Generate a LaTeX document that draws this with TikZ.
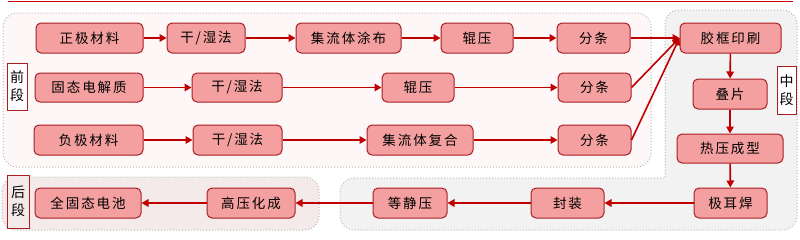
\documentclass[tikz,border=0pt]{standalone}
\usepackage{fontspec}
\newfontfamily\cjk[LetterSpace=14]{Noto Sans CJK SC}
\usetikzlibrary{arrows.meta}
\definecolor{darkred}{RGB}{192,0,0}
\definecolor{boxborder}{RGB}{170,30,35}
\definecolor{boxfill}{RGB}{244,160,160}
\definecolor{frontfill}{RGB}{253,247,247}
\definecolor{midfill}{RGB}{242,242,242}
\definecolor{backfill}{RGB}{244,234,234}
\definecolor{dotgray}{RGB}{185,185,185}
\begin{document}
\begin{tikzpicture}[x=1pt,y=-1pt,
  proc/.style={draw=boxborder, fill=boxfill, line width=1pt, rounded corners=5pt,
    minimum height=30pt, inner sep=0pt, font=\cjk\fontsize{13.5}{14}\selectfont, text=black},
  stagelbl/.style={draw=boxborder, line width=0.8pt, fill=white, inner sep=0pt,
    font=\cjk\fontsize{14}{18}\selectfont, align=center, minimum width=20pt},
  region/.style={draw=dotgray, dotted, line width=1pt, rounded corners=14pt},
  flow/.style={draw=darkred, line width=1.6pt, -{Triangle[length=7pt,width=7.5pt]}}
]
\useasboundingbox (0,0) rectangle (800,239);
% top line
\draw[darkred, line width=1.5pt] (8,1.5) -- (793,1.5);
% regions
\path[region, fill=frontfill] (3,13) rectangle (651,167);
\path[region, fill=midfill] (340,178) [sharp corners] -- (665,178) [rounded corners=14pt] -- (665,10) -- (797,10) -- (797,230) -- (340,230) -- cycle;
\path[region, fill=backfill] (2,177) rectangle (319,230);
% stage labels
\node[stagelbl, minimum height=47pt] (qd) at (17,86.5) {前\\段};
\node[stagelbl, minimum height=48pt, minimum width=19pt] (zd) at (786.5,90) {中\\段};
\node[stagelbl, fill=backfill, minimum height=53pt, minimum width=22pt] (hd) at (18,201.5) {后\\段};
% row 1
\node[proc, minimum width=107pt] (a1) at (89.5,38) {正极材料};
\node[proc, minimum width=78pt] (a2) at (206,38) {干/湿法};
\node[proc, minimum width=105pt] (a3) at (348.5,38) {集流体涂布};
\node[proc, minimum width=72pt] (a4) at (477,38) {辊压};
\node[proc, minimum width=73pt] (a5) at (593.5,38) {分条};
\node[proc, minimum width=101pt] (m1) at (730.5,38) {胶框印刷};
% row 2
\node[proc, minimum width=108pt, minimum height=29pt] (b1) at (89,87.5) {固态电解质};
\node[proc, minimum width=90pt, minimum height=29pt] (b2) at (237,87.5) {干/湿法};
\node[proc, minimum width=72pt, minimum height=29pt] (b3) at (418,87.5) {辊压};
\node[proc, minimum width=73pt, minimum height=29pt] (b4) at (594.5,87.5) {分条};
\node[proc, minimum width=74pt] (m2) at (730,94) {叠片};
% row 3
\node[proc, minimum width=109pt] (c1) at (88.5,140) {负极材料};
\node[proc, minimum width=89pt] (c2) at (237.5,140) {干/湿法};
\node[proc, minimum width=106pt] (c3) at (420,140) {集流体复合};
\node[proc, minimum width=73pt] (c4) at (594.5,140) {分条};
\node[proc, minimum width=106pt, minimum height=29pt] (m3) at (730,148.5) {热压成型};
% row 4
\node[proc, minimum width=106pt] (d5) at (88,203) {全固态电池};
\node[proc, minimum width=88pt] (d4) at (251,203) {高压化成};
\node[proc, minimum width=74pt] (d3) at (410,203) {等静压};
\node[proc, minimum width=73pt] (d2) at (567.5,203) {封装};
\node[proc, minimum width=73pt] (d1) at (730.5,203) {极耳焊};
% arrows
\draw[flow] (a1) -- (a2);
\draw[flow] (a2) -- (a3);
\draw[flow] (a3) -- (a4);
\draw[flow] (a4) -- (a5);
\draw[flow] (a5) -- (m1.west);
\draw[flow] (b1) -- (b2);
\draw[flow] (b2) -- (b3);
\draw[flow] (b3) -- (b4);
\draw[flow] (b4.east) -- (m1.west);
\draw[flow] (c1) -- (c2);
\draw[flow] (c2) -- (c3);
\draw[flow] (c3) -- (c4);
\draw[flow] (c4.east) -- (m1.west);
\draw[flow] (m1) -- (m2);
\draw[flow] (m2) -- (m3);
\draw[flow] (m3) -- (d1);
\draw[flow] (d1) -- (d2);
\draw[flow] (d2) -- (d3);
\draw[flow] (d3) -- (d4);
\draw[flow] (d4) -- (d5);
\end{tikzpicture}
\end{document}
